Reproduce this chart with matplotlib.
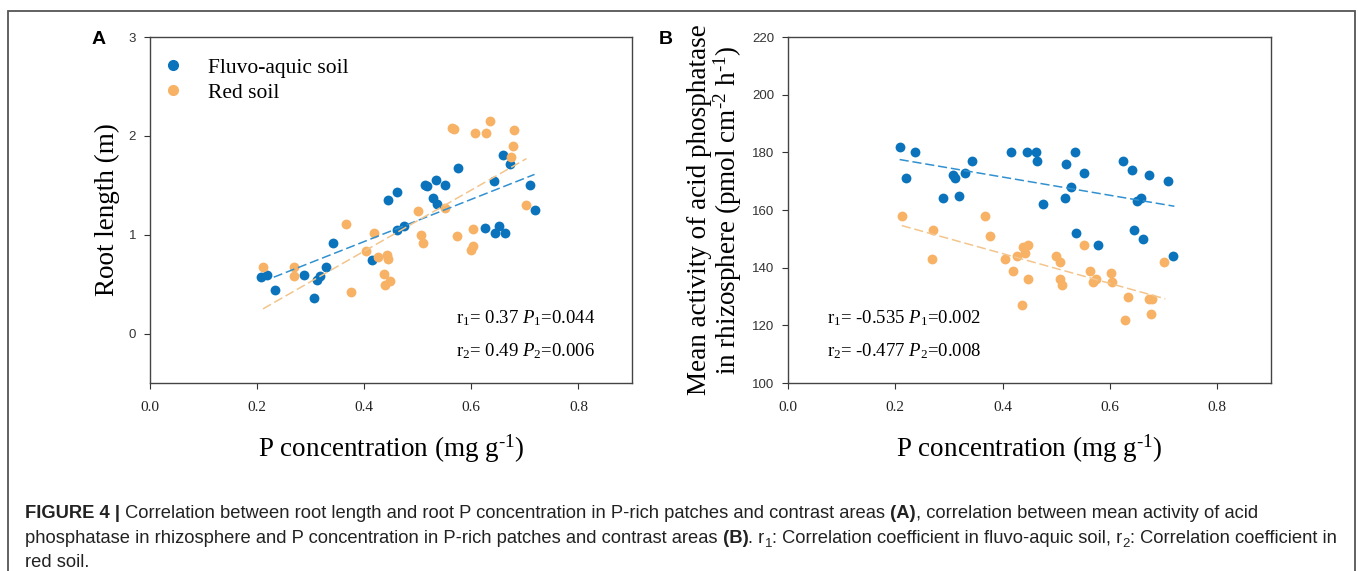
import matplotlib
matplotlib.use("Agg")
import matplotlib.pyplot as plt
from matplotlib.lines import Line2D
from matplotlib.patches import Rectangle

plt.rcParams['font.family'] = ['Liberation Serif', 'DejaVu Serif']
plt.rcParams['mathtext.fontset'] = 'custom'
plt.rcParams['mathtext.rm'] = 'Liberation Serif'
plt.rcParams['mathtext.it'] = 'Liberation Serif:italic'

# ---- panel A: root length vs P concentration ----
a_fluvo_x = [0.207, 0.218, 0.234, 0.288, 0.307, 0.312, 0.318, 0.329, 0.341, 0.415,
             0.445, 0.462, 0.461, 0.475, 0.513, 0.517, 0.534, 0.528, 0.536, 0.551,
             0.576, 0.625, 0.642, 0.644, 0.652, 0.662, 0.659, 0.672, 0.709, 0.718]
a_fluvo_y = [0.57, 0.59, 0.44, 0.59, 0.36, 0.54, 0.58, 0.67, 0.92, 0.74,
             1.35, 1.43, 1.05, 1.09, 1.50, 1.49, 1.55, 1.37, 1.31, 1.50,
             1.67, 1.07, 1.54, 1.02, 1.09, 1.02, 1.81, 1.72, 1.50, 1.25]
a_red_x = [0.211, 0.269, 0.268, 0.366, 0.375, 0.403, 0.419, 0.426, 0.442, 0.445,
           0.436, 0.438, 0.449, 0.500, 0.506, 0.509, 0.551, 0.564, 0.568, 0.573,
           0.606, 0.603, 0.600, 0.604, 0.627, 0.634, 0.679, 0.677, 0.674, 0.702]
a_red_y = [0.67, 0.67, 0.58, 1.11, 0.42, 0.84, 1.02, 0.77, 0.79, 0.75,
           0.60, 0.49, 0.53, 1.24, 1.00, 0.92, 1.27, 2.08, 2.07, 0.99,
           2.03, 1.06, 0.85, 0.89, 2.03, 2.15, 2.06, 1.90, 1.79, 1.30]
# regression lines (start, end)
a_fluvo_fit_x = [0.231, 0.718]
a_fluvo_fit_y = [0.57, 1.61]
a_red_fit_x = [0.211, 0.703]
a_red_fit_y = [0.25, 1.77]

# ---- panel B: acid phosphatase activity vs P concentration ----
b_fluvo_x = [0.208, 0.236, 0.220, 0.289, 0.308, 0.312, 0.318, 0.330, 0.343, 0.415,
             0.445, 0.462, 0.464, 0.476, 0.516, 0.518, 0.527, 0.534, 0.537, 0.552,
             0.577, 0.624, 0.641, 0.644, 0.650, 0.658, 0.662, 0.672, 0.709, 0.718]
b_fluvo_y = [182, 180, 171, 164, 172, 171, 165, 173, 177, 180,
             180, 180, 177, 162, 164, 176, 168, 180, 152, 173,
             148, 177, 174, 153, 163, 164, 150, 172, 170, 144]
b_red_x = [0.212, 0.270, 0.269, 0.367, 0.376, 0.404, 0.420, 0.427, 0.437, 0.442,
           0.447, 0.448, 0.436, 0.500, 0.506, 0.506, 0.510, 0.551, 0.563, 0.568,
           0.574, 0.601, 0.604, 0.634, 0.628, 0.672, 0.679, 0.676, 0.701]
b_red_y = [158, 153, 143, 158, 151, 143, 139, 144, 147, 145,
           148, 136, 127, 144, 142, 136, 134, 148, 139, 135,
           136, 138, 135, 130, 122, 129, 129, 124, 142]
b_fluvo_fit_x = [0.208, 0.720]
b_fluvo_fit_y = [177.5, 161.3]
b_red_fit_x = [0.212, 0.703]
b_red_fit_y = [154.6, 129.2]

xticks = [0.0, 0.2, 0.4, 0.6, 0.8]
a_yticks = [0, 1, 2, 3]
b_yticks = [100, 120, 140, 160, 180, 200, 220]

blue = '#0a73bb'
orange = '#f7b266'
blue_line = '#3191d0'
orange_line = '#f3c58c'

W, H = 1358, 571
fig = plt.figure(figsize=(W / 100, H / 100), dpi=100)

# thin frame round the whole figure
fig.patches.append(Rectangle((8 / W, -0.05), (1355 - 8) / W, 1.05 - 11 / H,
                             transform=fig.transFigure, fill=False,
                             edgecolor='#555555', linewidth=1.3))

axA = fig.add_axes([150 / W, 1 - 383 / H, 482 / W, 346 / H])
axB = fig.add_axes([788 / W, 1 - 383 / H, 483 / W, 346 / H])

sup = lambda s: r'$^{\text{' + s + '}}$'


def style(ax, yticks, ylim):
    ax.set_xlim(0, 0.9)
    ax.set_ylim(*ylim)
    ax.set_xticks(xticks)
    ax.set_xticklabels(['%.1f' % v for v in xticks], fontsize=11)
    ax.set_yticks(yticks)
    ax.set_yticklabels([str(v) for v in yticks], fontsize=9.5,
                       family=['Liberation Sans', 'DejaVu Sans'])
    ax.tick_params(direction='out', length=4, width=0.8, colors='#333333',
                   top=False, right=False, pad=6)
    ax.tick_params(axis='x', labelcolor='#222222', pad=9)
    for s in ax.spines.values():
        s.set_color('#444444')
        s.set_linewidth(1.0)
    ax.set_xlabel('P concentration (mg g' + sup('-1') + ')', fontsize=19.5, labelpad=13)


ms = 50
axA.scatter(a_fluvo_x, a_fluvo_y, s=ms, color=blue, zorder=3, linewidths=0)
axA.scatter(a_red_x, a_red_y, s=ms, color=orange, zorder=3, linewidths=0)
axA.plot(a_fluvo_fit_x, a_fluvo_fit_y, color=blue_line, lw=1.1, dashes=(6, 2.5), zorder=4)
axA.plot(a_red_fit_x, a_red_fit_y, color=orange_line, lw=1.1, dashes=(6, 2.5), zorder=4)
style(axA, a_yticks, (-0.5, 3))
axA.set_ylabel('Root length (m)', fontsize=19.5, labelpad=6)

handles = [Line2D([], [], ls='none', marker='o', ms=7, color=blue),
           Line2D([], [], ls='none', marker='o', ms=7, color=orange)]
axA.legend(handles, ['Fluvo-aquic soil', 'Red soil'], loc='upper left',
           bbox_to_anchor=(-0.033, 0.99), frameon=False, fontsize=15.5,
           handletextpad=0.65, labelspacing=0.22, borderaxespad=0.4)

axA.text(0.635, 0.172, 'r$_1$= 0.37 $P_1$=0.044', transform=axA.transAxes, fontsize=13.5)
axA.text(0.635, 0.077, 'r$_2$= 0.49 $P_2$=0.006', transform=axA.transAxes, fontsize=13.5)

axB.scatter(b_fluvo_x, b_fluvo_y, s=ms, color=blue, zorder=3, linewidths=0)
axB.scatter(b_red_x, b_red_y, s=ms, color=orange, zorder=3, linewidths=0)
axB.plot(b_fluvo_fit_x, b_fluvo_fit_y, color=blue_line, lw=1.1, dashes=(6, 2.5), zorder=4)
axB.plot(b_red_fit_x, b_red_fit_y, color=orange_line, lw=1.1, dashes=(6, 2.5), zorder=4)
style(axB, b_yticks, (100, 220))
axB.set_ylabel('Mean activity of acid phosphatase\nin rhizosphere (pmol cm' + sup('-2')
               + ' h' + sup('-1') + ')', fontsize=19.5, labelpad=6, linespacing=0.95)

axB.text(0.08, 0.172, 'r$_1$= -0.535 $P_1$=0.002', transform=axB.transAxes, fontsize=13.5)
axB.text(0.08, 0.077, 'r$_2$= -0.477 $P_2$=0.008', transform=axB.transAxes, fontsize=13.5)

sans = ['Liberation Sans', 'DejaVu Sans']
fig.text(92 / W, 1 - 40 / H, 'A', fontsize=14, fontweight='bold', family=sans, va='center')
fig.text(659 / W, 1 - 40 / H, 'B', fontsize=14, fontweight='bold', family=sans, va='center')

# caption, written run by run so bold parts and subscripts sit inline
fig.canvas.draw()
renderer = fig.canvas.get_renderer()
cap_size = 13.2


def put_line(runs, x_px, y_px):
    x = x_px
    for txt, bold, sub in runs:
        fs = cap_size * 0.72 if sub else cap_size
        dy = -4 if sub else 0
        t = fig.text(x / W, 1 - (y_px - dy) / H, txt, fontsize=fs, family=sans,
                     fontweight='bold' if bold else 'normal', color='#222222',
                     va='baseline', ha='left')
        x += t.get_window_extent(renderer).width


put_line([('FIGURE 4 |', True, False),
          (' Correlation between root length and root P concentration in P-rich patches and contrast areas', False, False),
          (' (A)', True, False),
          (', correlation between mean activity of acid', False, False)], 25, 518)
put_line([('phosphatase in rhizosphere and P concentration in P-rich patches and contrast areas', False, False),
          (' (B)', True, False),
          ('. r', False, False), ('1', False, True),
          (': Correlation coefficient in fluvo-aquic soil, r', False, False), ('2', False, True),
          (': Correlation coefficient in', False, False)], 25, 543)
put_line([('red soil.', False, False)], 25, 567)

fig.savefig('out.png', dpi=100)
